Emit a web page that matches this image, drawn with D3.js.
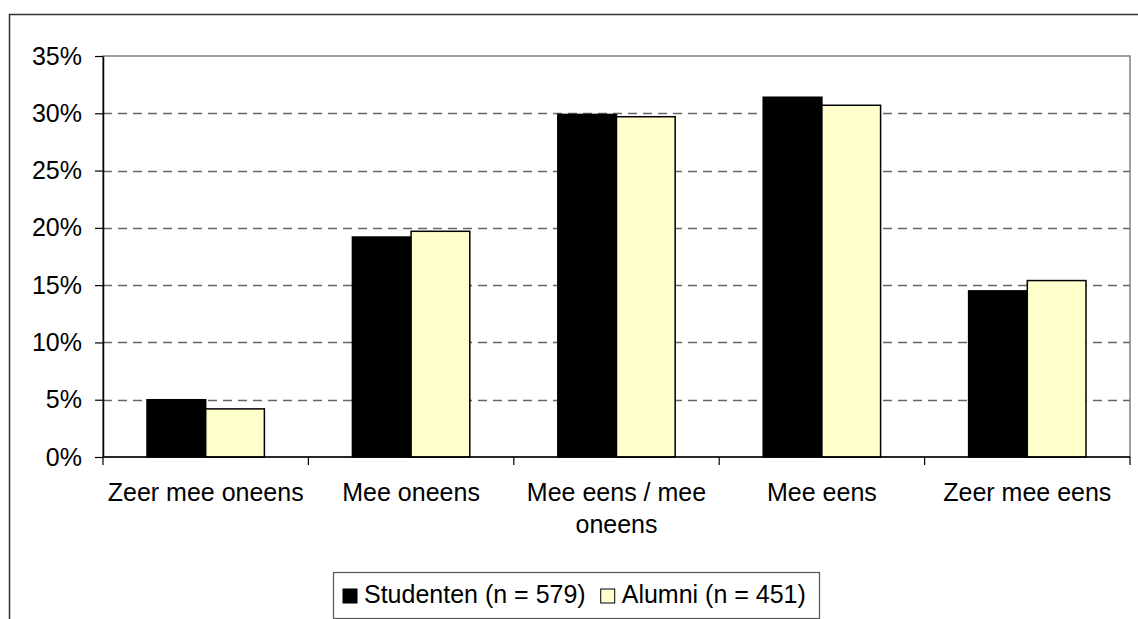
<!DOCTYPE html>
<html>
<head>
<meta charset="utf-8">
<script src="https://cdn.jsdelivr.net/npm/d3@7"></script>
<style>
  body { margin: 0; background: #fff; }
  svg { display: block; font-family: "Liberation Sans", Arial, sans-serif; }
</style>
</head>
<body>
<svg id="chart" width="1138" height="619"></svg>
<script>
// data
const categories = ['Zeer mee oneens', 'Mee oneens', 'Mee eens / mee oneens', 'Mee eens', 'Zeer mee eens'];
const seriesNames = ['Studenten (n = 579)', 'Alumni (n = 451)'];
const studenten = [0.050, 0.192, 0.299, 0.314, 0.145];
const alumni = [0.042, 0.197, 0.297, 0.307, 0.154];
const yTicks = [0, 0.05, 0.10, 0.15, 0.20, 0.25, 0.30, 0.35];
const colours = ['#000000', '#FFFFCC'];

const svg = d3.select('#chart');
const margin = { top: 56, left: 103, right: 8, bottom: 162 };
const width = 1138 - margin.left - margin.right;
const height = 619 - margin.top - margin.bottom;
const fontSize = 25;

// outer chart frame (cut off right and bottom like the source)
svg.append('rect')
  .attr('x', 9.5).attr('y', 14.5)
  .attr('width', 1200).attr('height', 700)
  .attr('fill', 'none')
  .attr('stroke', '#333').attr('stroke-width', 1.5);

const chart = svg.append('g')
  .attr('transform', `translate(${margin.left},${margin.top})`);

const xScale = d3.scaleBand()
  .domain(categories)
  .range([0, width]);

const xInner = d3.scaleBand()
  .domain(seriesNames)
  .range([0, xScale.bandwidth()])
  .paddingOuter(0.75);

const yScale = d3.scaleLinear()
  .domain([0, 0.35])
  .range([height, 0]);

// plot area border
chart.append('rect')
  .attr('x', 0).attr('y', 0)
  .attr('width', width).attr('height', height)
  .attr('fill', 'none')
  .attr('stroke', '#808080').attr('stroke-width', 1.5);

// gridlines
chart.selectAll('.grid')
  .data(yTicks.filter(d => d > 0 && d < 0.35))
  .enter().append('line')
  .attr('class', 'grid')
  .attr('x1', 0).attr('x2', width)
  .attr('y1', d => Math.round(yScale(d)) + 0.5)
  .attr('y2', d => Math.round(yScale(d)) + 0.5)
  .attr('stroke', '#666')
  .attr('stroke-width', 1.3)
  .attr('stroke-dasharray', '9,6');

// bars
const rows = categories.map((c, i) => ({ cat: c, values: [studenten[i], alumni[i]] }));

chart.selectAll('.bar-group')
  .data(rows)
  .enter().append('g')
  .attr('class', 'bar-group')
  .attr('transform', d => `translate(${xScale(d.cat)},0)`)
  .selectAll('rect')
  .data(d => d.values.map((v, i) => ({ name: seriesNames[i], value: v, idx: i })))
  .enter().append('rect')
  .attr('x', d => xInner(d.name))
  .attr('y', d => yScale(d.value))
  .attr('width', xInner.bandwidth())
  .attr('height', d => height - yScale(d.value))
  .attr('fill', d => colours[d.idx])
  .attr('stroke', '#000')
  .attr('stroke-width', 1.5);

// y axis
const yAxis = chart.append('g')
  .call(d3.axisLeft(yScale)
    .tickValues(yTicks)
    .tickFormat(d3.format('.0%'))
    .tickSizeInner(8)
    .tickSizeOuter(0)
    .tickPadding(13));
yAxis.select('.domain').attr('stroke', '#000').attr('stroke-width', 1.5);
yAxis.selectAll('.tick line').attr('stroke', '#000').attr('stroke-width', 1.2);
yAxis.selectAll('.tick text')
  .attr('font-size', fontSize)
  .attr('font-family', '"Liberation Sans", Arial, sans-serif')
  .attr('fill', '#000');

// x axis line and category boundary ticks
chart.append('line')
  .attr('x1', 0).attr('x2', width)
  .attr('y1', height).attr('y2', height)
  .attr('stroke', '#000').attr('stroke-width', 1.5);

const bounds = categories.map(c => xScale(c)).concat([width]);
chart.selectAll('.xtick')
  .data(bounds)
  .enter().append('line')
  .attr('class', 'xtick')
  .attr('x1', d => d).attr('x2', d => d)
  .attr('y1', height).attr('y2', height + 8)
  .attr('stroke', '#000').attr('stroke-width', 1.2);

// category labels, wrapped
function wrap(text, maxWidth) {
  text.each(function() {
    const t = d3.select(this);
    const words = t.text().split(' ');
    const x = t.attr('x');
    t.text(null);
    let line = [];
    let tspan = t.append('tspan').attr('x', x).attr('dy', 0);
    words.forEach(w => {
      line.push(w);
      tspan.text(line.join(' '));
      if (tspan.node().getComputedTextLength() > maxWidth && line.length > 1) {
        line.pop();
        tspan.text(line.join(' '));
        line = [w];
        tspan = t.append('tspan').attr('x', x).attr('dy', 32).text(w);
      }
    });
  });
}

chart.selectAll('.cat-label')
  .data(categories)
  .enter().append('text')
  .attr('class', 'cat-label')
  .attr('x', d => xScale(d) + xScale.bandwidth() / 2)
  .attr('y', height + 44)
  .attr('text-anchor', 'middle')
  .attr('font-size', fontSize)
  .attr('fill', '#000')
  .text(d => d)
  .call(wrap, 200);

// legend
const legend = svg.append('g');
legend.append('rect')
  .attr('x', 333.5).attr('y', 572.5)
  .attr('width', 486).attr('height', 46)
  .attr('fill', '#fff')
  .attr('stroke', '#555').attr('stroke-width', 1.2);

let lx = 343;
seriesNames.forEach((name, i) => {
  legend.append('rect')
    .attr('x', lx).attr('y', 589)
    .attr('width', 14).attr('height', 14)
    .attr('fill', colours[i])
    .attr('stroke', '#000').attr('stroke-width', 1);
  const txt = legend.append('text')
    .attr('x', lx + 21).attr('y', 603)
    .attr('font-size', fontSize)
    .attr('fill', '#000')
    .text(name);
  lx += 21 + txt.node().getComputedTextLength() + 15;
});
</script>
</body>
</html>
